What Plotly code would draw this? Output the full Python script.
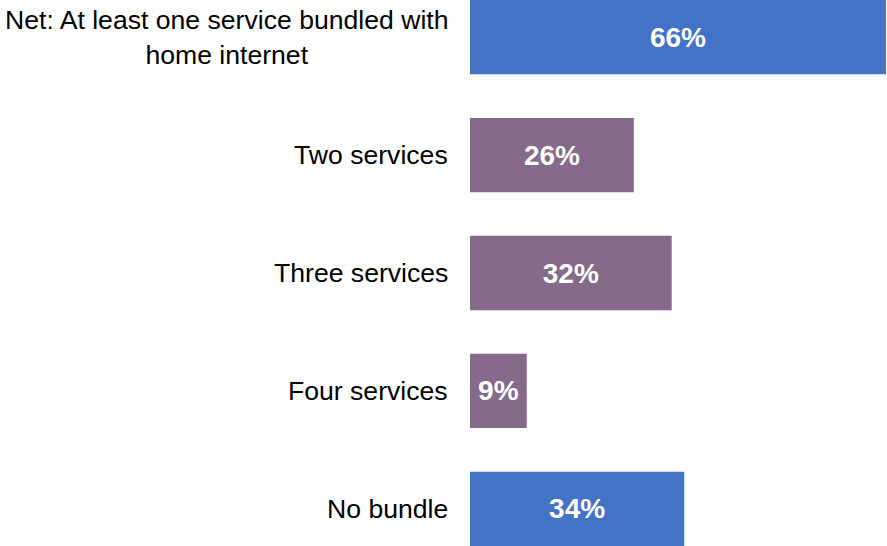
import plotly.graph_objects as go

categories = [
    "Net: At least one service bundled with<br>home internet",
    "Two services",
    "Three services",
    "Four services",
    "No bundle",
]
values = [66, 26, 32, 9, 34]
colors = ["#4472C4", "#866A8A", "#866A8A", "#866A8A", "#4472C4"]

fig = go.Figure(
    go.Bar(
        x=values,
        y=list(range(len(categories))),
        orientation="h",
        marker=dict(color=colors, line=dict(width=0)),
        text=[f"<b>{v}%</b>" for v in values],
        textposition="inside",
        insidetextanchor="middle",
        textangle=0,
        textfont=dict(family="Liberation Sans, Arial, sans-serif", size=28, color="white"),
        hoverinfo="skip",
    )
)

# Category labels drawn as annotations so multi-line text stays centred
for i, cat in enumerate(categories):
    fig.add_annotation(
        x=0, xref="paper", xanchor="right", xshift=-20,
        y=i, yref="y", yanchor="middle",
        text=cat, showarrow=False, align="center",
        font=dict(family="Liberation Sans, Arial, sans-serif", size=26.6, color="black"),
    )

fig.update_layout(
    width=887, height=546,
    margin=dict(l=470, r=1, t=0, b=0),
    paper_bgcolor="white", plot_bgcolor="white",
    bargap=0.37,
    showlegend=False,
    xaxis=dict(range=[0, 66], visible=False),
    yaxis=dict(range=[4.315, -0.315], visible=False),
)

fig.write_html("out.html")
